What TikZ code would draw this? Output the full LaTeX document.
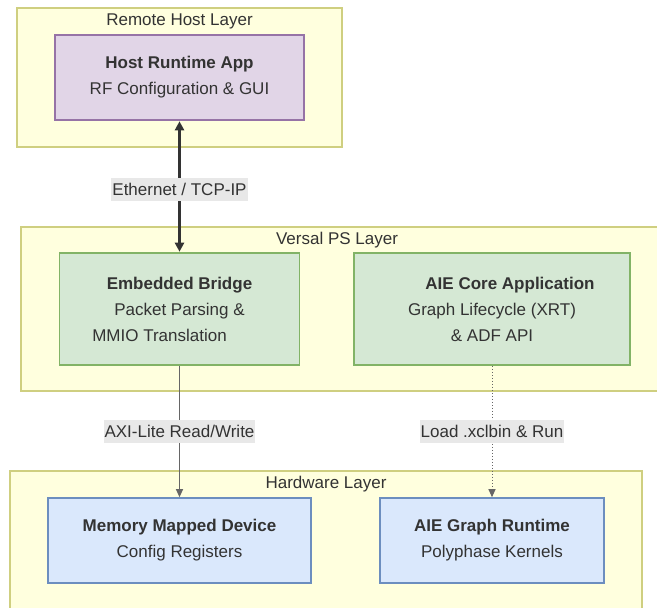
\documentclass[tikz,border=0pt]{standalone}
\usepackage{fontspec}
\setmainfont{Liberation Sans}
\usetikzlibrary{arrows.meta}
\definecolor{clfill}{HTML}{FFFFDE}
\definecolor{cldraw}{HTML}{CFCF80}
\definecolor{txt}{HTML}{333333}
\definecolor{pfill}{HTML}{E1D5E7}
\definecolor{pdraw}{HTML}{9673A6}
\definecolor{gfill}{HTML}{D5E8D4}
\definecolor{gdraw}{HTML}{82B366}
\definecolor{bfill}{HTML}{DAE8FC}
\definecolor{bdraw}{HTML}{6C8EBF}
\definecolor{lblbg}{HTML}{E8E8E8}
\definecolor{thinln}{HTML}{666666}
\tikzset{
  cluster/.style={draw=cldraw, fill=clfill, line width=1.3pt, inner sep=0pt, rectangle},
  cltitle/.style={text=txt, font=\fontsize{17}{20}\selectfont, inner sep=0pt},
  box/.style={rectangle, line width=1.6pt, inner sep=0pt, text=txt, align=center,
    font=\fontsize{17}{26}\selectfont},
  purplebox/.style={box, draw=pdraw, fill=pfill},
  greenbox/.style={box, draw=gdraw, fill=gfill},
  bluebox/.style={box, draw=bdraw, fill=bfill},
  elabel/.style={fill=lblbg, text=txt, font=\fontsize{17}{20}\selectfont, inner xsep=1pt, minimum height=23pt, inner ysep=0pt},
  thickarrow/.style={draw=txt, line width=2.6pt, {Triangle[length=9pt,width=9pt]}-{Triangle[length=9pt,width=9pt]}, shorten <=0.5pt, shorten >=0.5pt},
  thinarrow/.style={draw=thinln, line width=1pt, -{Triangle[length=8pt,width=7pt]}},
  dotarrow/.style={draw=thinln, line width=1pt, dash pattern=on 1.5pt off 1.5pt, -{Triangle[length=8pt,width=7pt]}}
}
\begin{document}
\begin{tikzpicture}[x=1pt,y=-1pt]
\useasboundingbox (0,0) rectangle (657,608);
\fill[white] (0,0) rectangle (657,608);
% clusters
\node[cluster, minimum width=325pt, minimum height=139pt] (clR) at (179.5,77.5) {};
\node[cltitle] (tR) at (179.5,21) {Remote Host Layer};
\node[cluster, minimum width=646pt, minimum height=164pt] (clV) at (344,309) {};
\node[cltitle] (tV) at (337,240) {Versal PS Layer};
\node[cluster, minimum width=632pt, minimum height=150pt] (clH) at (326,546) {};
\node[cltitle] (tH) at (326,484) {Hardware Layer};
% boxes
\node[purplebox, minimum width=249pt, minimum height=85pt] (host) at (179.5,77.5)
  {\textbf{Host Runtime App}\\RF Configuration \& GUI};
\node[greenbox, minimum width=240pt, minimum height=112pt] (bridge) at (179.5,309)
  {\textbf{Embedded Bridge}\\Packet Parsing \&\\MMIO Translation\hspace*{40pt}};
\node[greenbox, minimum width=276pt, minimum height=112pt] (core) at (492,309)
  {\hspace*{36pt}\textbf{AIE Core Application}\\Graph Lifecycle (XRT)\\\& ADF API};
\node[bluebox, minimum width=263pt, minimum height=85pt] (mmd) at (179.5,540.5)
  {\textbf{Memory Mapped Device}\\Config Registers};
\node[bluebox, minimum width=224pt, minimum height=85pt] (aiert) at (492,540.5)
  {\textbf{AIE Graph Runtime}\\Polyphase Kernels};
% connectors
\draw[thickarrow] (host.south) -- node[elabel, pos=0.52] (l1) {Ethernet / TCP-IP} (bridge.north);
\draw[thinarrow] (bridge.south) -- node[elabel] (l2) {AXI-Lite Read/Write} (mmd.north);
\draw[dotarrow] (core.south) -- node[elabel] (l3) {Load .xclbin \& Run} (aiert.north);
\end{tikzpicture}
\end{document}
